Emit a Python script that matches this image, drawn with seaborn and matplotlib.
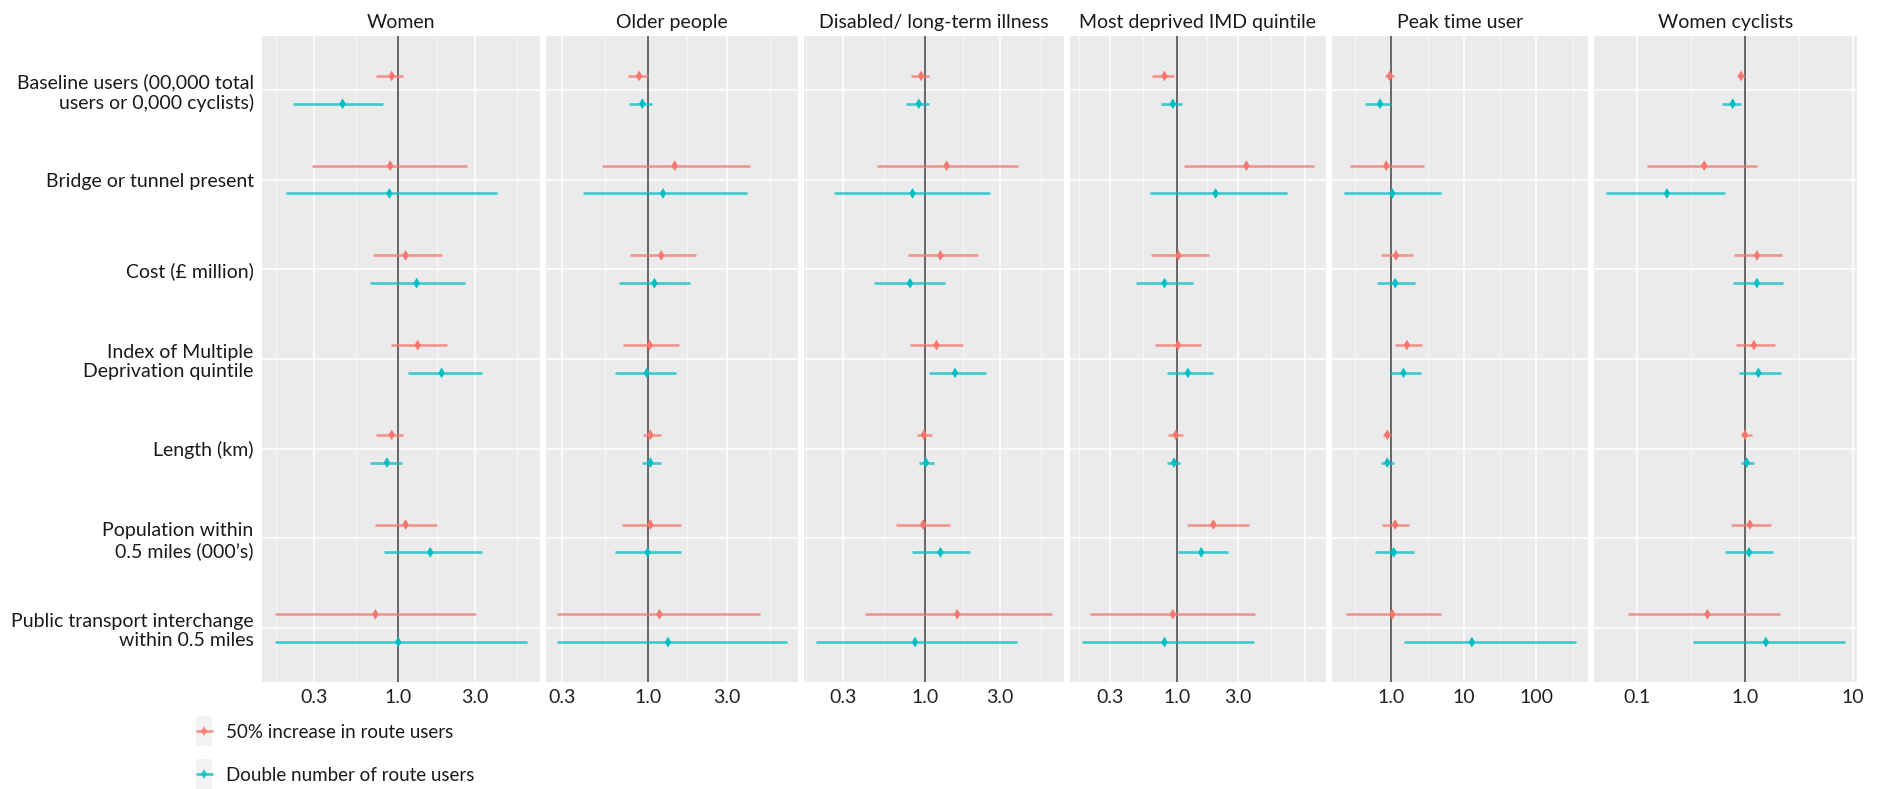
import numpy as np
import pandas as pd
import matplotlib
matplotlib.use("Agg")
import matplotlib.pyplot as plt
import seaborn as sns
from matplotlib.lines import Line2D
from matplotlib.patches import Rectangle
from matplotlib.ticker import FixedLocator, FixedFormatter, NullFormatter

# facettes (sous-groupes) et variables du modele
groups = ["Women", "Older people", "Disabled/ long-term illness",
          "Most deprived IMD quintile", "Peak time user", "Women cyclists"]
variables = ["Baseline users (00,000 total\nusers or 0,000 cyclists)",
             "Bridge or tunnel present",
             "Cost (£ million)",
             "Index of Multiple\nDeprivation quintile",
             "Length (km)",
             "Population within\n0.5 miles (000’s)",
             "Public transport interchange\nwithin 0.5 miles"]
scenarios = ["50% increase in route users", "Double number of route users"]

# odds ratios : une ligne par facette, 7 variables
inc_or = [[0.91, 0.89, 1.11, 1.32, 0.91, 1.11, 0.72],
          [0.88, 1.45, 1.20, 1.02, 1.03, 1.03, 1.17],
          [0.94, 1.37, 1.25, 1.18, 0.98, 0.97, 1.60],
          [0.80, 3.50, 1.03, 1.02, 0.98, 1.93, 0.93],
          [0.95, 0.85, 1.16, 1.64, 0.88, 1.13, 1.03],
          [0.92, 0.42, 1.29, 1.21, 1.00, 1.11, 0.45]]
inc_lo = [[0.73, 0.29, 0.70, 0.90, 0.73, 0.72, 0.17],
          [0.75, 0.52, 0.77, 0.70, 0.93, 0.69, 0.28],
          [0.81, 0.49, 0.78, 0.80, 0.89, 0.65, 0.41],
          [0.64, 1.14, 0.63, 0.67, 0.86, 1.19, 0.21],
          [0.81, 0.27, 0.71, 1.12, 0.78, 0.74, 0.24],
          [0.85, 0.124, 0.80, 0.83, 0.91, 0.75, 0.083]]
inc_hi = [[1.07, 2.69, 1.88, 2.01, 1.07, 1.75, 3.04],
          [1.00, 4.18, 1.96, 1.53, 1.19, 1.59, 4.81],
          [1.06, 3.90, 2.16, 1.75, 1.11, 1.44, 6.47],
          [0.95, 11.9, 1.77, 1.54, 1.12, 3.64, 4.10],
          [1.09, 2.78, 1.98, 2.69, 1.00, 1.77, 4.82],
          [1.00, 1.30, 2.19, 1.91, 1.15, 1.74, 2.10]]
dbl_or = [[0.45, 0.88, 1.30, 1.86, 0.85, 1.58, 1.00],
          [0.92, 1.23, 1.09, 0.98, 1.03, 0.99, 1.32],
          [0.91, 0.83, 0.80, 1.55, 1.01, 1.25, 0.86],
          [0.93, 2.01, 0.80, 1.22, 0.95, 1.55, 0.80],
          [0.70, 1.03, 1.13, 1.47, 0.88, 1.08, 12.9],
          [0.77, 0.19, 1.29, 1.33, 1.04, 1.09, 1.56]]
dbl_lo = [[0.22, 0.20, 0.67, 1.15, 0.67, 0.82, 0.17],
          [0.76, 0.40, 0.66, 0.63, 0.91, 0.63, 0.28],
          [0.75, 0.26, 0.47, 1.05, 0.91, 0.82, 0.20],
          [0.75, 0.62, 0.48, 0.83, 0.84, 1.03, 0.18],
          [0.43, 0.22, 0.64, 0.95, 0.72, 0.60, 1.50],
          [0.61, 0.052, 0.78, 0.88, 0.91, 0.66, 0.33]]
dbl_hi = [[0.80, 4.09, 2.59, 3.34, 1.05, 3.30, 6.36],
          [1.06, 4.00, 1.79, 1.48, 1.19, 1.59, 6.95],
          [1.05, 2.60, 1.33, 2.46, 1.13, 1.93, 3.88],
          [1.09, 7.28, 1.33, 1.91, 1.05, 2.53, 4.00],
          [1.00, 4.82, 2.10, 2.54, 1.09, 2.05, 356],
          [0.92, 0.65, 2.24, 2.13, 1.22, 1.82, 8.40]]

# graduations de l'axe x (echelle log) pour chaque facette
tick_breaks = [[0.1, 0.3, 1, 3, 10]] * 4 + [[0.1, 1, 10, 100, 1000], [0.01, 0.1, 1, 10, 100]]
tick_labels = [["0.1", "0.3", "1.0", "3.0", ""]] * 4 + [["0.1", "1.0", "10", "100", "1000"],
                                                      ["0.01", "0.1", "1.0", "10", "100"]]

palette = {scenarios[0]: "#F8766D", scenarios[1]: "#00BFC4"}
dodge = {scenarios[0]: -0.155, scenarios[1]: 0.155}

rows = []
for gi, grp in enumerate(groups):
    for sc, est, lo, hi in [(scenarios[0], inc_or, inc_lo, inc_hi), (scenarios[1], dbl_or, dbl_lo, dbl_hi)]:
        for vi, var in enumerate(variables):
            rows.append({"group": grp, "scenario": sc, "variable": var,
                         "est": est[gi][vi], "lo": lo[gi][vi], "hi": hi[gi][vi],
                         "ypos": vi + dodge[sc]})
df = pd.DataFrame(rows)

sns.set_theme(style="darkgrid", rc={"axes.facecolor": "#EBEBEB", "grid.color": "white",
                                    "figure.facecolor": "white"})
plt.rcParams["font.family"] = ["Lato", "DejaVu Sans"]


def draw_ci(data, color=None, **kws):
    ax = plt.gca()
    for sc, sub in data.groupby("scenario"):
        ax.hlines(sub["ypos"], sub["lo"], sub["hi"], color=palette[sc], lw=1.9, alpha=0.75, zorder=2)


g = sns.FacetGrid(df, col="group", col_order=groups, sharex=False, sharey=True,
                  height=7.89, aspect=18.85 / 7.89 / 6, despine=False,
                  gridspec_kws={"width_ratios": [278, 252, 260, 256, 256, 263]})
g.map_dataframe(draw_ci)
g.map_dataframe(sns.scatterplot, x="est", y="ypos", hue="scenario", palette=palette,
                marker="d", s=30, linewidth=0, legend=False, zorder=3)
g.set_titles("{col_name}", size=14, color="#1a1a1a")
g.set_axis_labels("", "")

for i, (ax, grp, brk, lab) in enumerate(zip(g.axes.flat, groups, tick_breaks, tick_labels)):
    ax.set_xscale("log")
    sub = df[df["group"] == grp]
    lmin = np.log10(sub["lo"].min())
    lmax = np.log10(sub["hi"].max())
    pad = 0.05 * (lmax - lmin)
    ax.set_xlim(10 ** (lmin - pad), 10 ** (lmax + pad))
    ax.xaxis.set_major_locator(FixedLocator(brk))
    ax.xaxis.set_major_formatter(FixedFormatter(lab))
    minors = np.sqrt(np.array(brk[:-1]) * np.array(brk[1:]))
    ax.xaxis.set_minor_locator(FixedLocator(minors))
    ax.xaxis.set_minor_formatter(NullFormatter())
    ax.grid(which="major", axis="both", color="white", lw=1.1)
    ax.grid(which="minor", axis="x", color="white", lw=0.5)
    ax.axvline(1, color="#555555", lw=1.25, zorder=1.8)
    ax.set_ylim(6.6, -0.6)
    ax.set_yticks(range(len(variables)))
    for s in ax.spines.values():
        s.set_visible(False)
    ax.tick_params(which="major", length=0, labelsize=14, labelcolor="#222222", pad=5)
    ax.tick_params(which="minor", length=0)
    if i == 0:
        ax.set_yticklabels(variables)
        ax.tick_params(axis="y", labelsize=14, labelcolor="#1a1a1a", pad=6)
    else:
        ax.tick_params(axis="y", labelleft=False)

fig = g.figure
fig.set_size_inches(18.85, 7.89)
fig.subplots_adjust(left=262 / 1885, right=1857 / 1885, top=1 - 36 / 789, bottom=1 - 682 / 789,
                    wspace=0.023)

handles = [Line2D([0], [0], color=palette[sc], lw=1.9, alpha=0.8, marker="d", markersize=5,
                  markeredgewidth=0) for sc in scenarios]
leg = fig.legend(handles, scenarios, loc="upper left", bbox_to_anchor=(0.1045, 0.083),
                 frameon=False, fontsize=13.5, handlelength=0.8, handletextpad=0.75,
                 labelspacing=1.4, borderpad=0, borderaxespad=0)
for t in leg.get_texts():
    t.set_color("#1a1a1a")

# fond gris des cles de legende, comme ggplot
fig.canvas.draw()
renderer = fig.canvas.get_renderer()
for h in leg.legend_handles:
    bb = h.get_window_extent(renderer)
    cx = (bb.x0 + bb.x1) / 2
    cy = (bb.y0 + bb.y1) / 2
    fig.patches.append(Rectangle((cx - 8, cy - 15), 16, 30, transform=None,
                                 facecolor="#F2F2F2", edgecolor="none", zorder=0))

fig.savefig("out.png", dpi=100)
